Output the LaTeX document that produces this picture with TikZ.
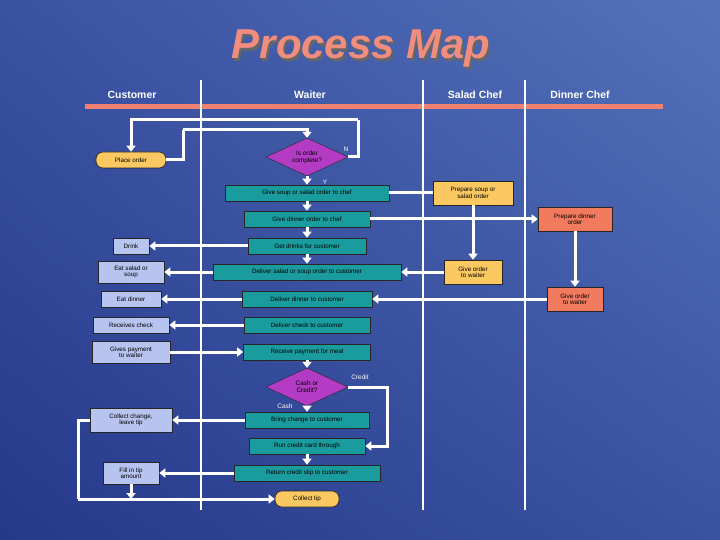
\documentclass[tikz,border=0pt]{standalone}
\usepackage{fontspec}
\setmainfont{Liberation Sans}
\usetikzlibrary{shapes.geometric,arrows.meta,calc,shadings}

\definecolor{bgdark}{HTML}{26388A}
\definecolor{bgmid}{HTML}{3A52A2}
\definecolor{bglight}{HTML}{5472BA}
\definecolor{lanebar}{HTML}{F08070}
\definecolor{teal}{HTML}{1A9C9E}
\definecolor{custblue}{HTML}{B8C4F0}
\definecolor{saladorange}{HTML}{FCC862}
\definecolor{dinnerred}{HTML}{F27A5E}
\definecolor{decpurple}{HTML}{B43CC4}

\tikzset{
    box/.style={draw=black!85, line width=0.6bp, inner sep=1bp, align=center,
        minimum height=16bp, font=\fontsize{6.3}{6.5}\selectfont},
    waiter/.style={box, fill=teal},
    cust/.style={box, fill=custblue},
    salad/.style={box, fill=saladorange, minimum height=24bp},
    dinner/.style={box, fill=dinnerred, minimum height=24bp},
    term/.style={box, fill=saladorange, rounded corners=7bp},
    decide/.style={diamond, draw=black!85, fill=decpurple, aspect=2.15, inner sep=0pt,
        minimum width=82bp, minimum height=38bp, align=center, font=\fontsize{6.5}{7}\selectfont},
    flow/.style={white, line width=3bp, -{Triangle[length=6bp,width=9bp]}},
    link/.style={white, line width=3bp},
    lbl/.style={white, font=\fontsize{6.5}{7}\selectfont},
    head/.style={white, font=\fontsize{10.5}{12}\selectfont\bfseries}
}

\begin{document}
\begin{tikzpicture}[x=1bp, y=-1bp]
    \useasboundingbox (0,0) rectangle (720,540);
    \shade[lower left=bgdark, upper right=bglight, upper left=bgmid, lower right=bgmid]
        (0,0) rectangle (720,540);
    % title
    \node[black!60, font=\fontsize{42}{46}\selectfont\bfseries\itshape] at (363,51) {Process Map};
    \node[lanebar!90!white, font=\fontsize{42}{46}\selectfont\bfseries\itshape] at (361,48) {Process Map};
    % lanes
    \draw[lanebar, line width=5bp] (85,107) -- (663,107);
    \foreach \x in {201,423,525}
        \draw[white, line width=1.5bp] (\x,80) -- (\x,510);
    \node[head] at (132,95) {Customer};
    \node[head] at (310,95) {Waiter};
    \node[head] at (475,95) {Salad Chef};
    \node[head] at (580,95) {Dinner Chef};

    % customer
    \node[term, minimum width=70bp] (place) at (131,160) {Place order};
    \node[cust, minimum width=36bp] (drink) at (131,246) {Drink};
    \node[cust, minimum width=66bp, minimum height=22bp] (eatsalad) at (131,272) {Eat salad or\\soup};
    \node[cust, minimum width=60bp] (eatdinner) at (131,299) {Eat dinner};
    \node[cust, minimum width=76bp] (check) at (131,325) {Receives check};
    \node[cust, minimum width=78bp, minimum height=22bp] (pays) at (131,352) {Gives payment\\to waiter};
    \node[cust, minimum width=82bp, minimum height=24bp] (change) at (131,420) {Collect change,\\leave tip};
    \node[cust, minimum width=56bp, minimum height=22bp] (filltip) at (131,473) {Fill in tip\\amount};

    % waiter
    \node[decide] (isdone) at (307,157) {Is order\\complete?};
    \node[waiter, minimum width=164bp] (givesoup) at (307,193) {Give soup or salad order to chef};
    \node[waiter, minimum width=126bp] (givedinner) at (307,219) {Give dinner order to chef};
    \node[waiter, minimum width=118bp] (drinks) at (307,246) {Get drinks for customer};
    \node[waiter, minimum width=188bp] (delsoup) at (307,272) {Deliver salad or soup order to customer};
    \node[waiter, minimum width=130bp] (deldinner) at (307,299) {Deliver dinner to customer};
    \node[waiter, minimum width=126bp] (delcheck) at (307,325) {Deliver check to customer};
    \node[waiter, minimum width=127bp] (payment) at (307,352) {Receive payment for meal};
    \node[decide] (cash) at (307,387) {Cash or\\Credit?};
    \node[waiter, minimum width=124bp] (bring) at (307,420) {Bring change to customer};
    \node[waiter, minimum width=116bp] (run) at (307,446) {Run credit card through};
    \node[waiter, minimum width=146bp] (slip) at (307,473) {Return credit slip to customer};
    \node[term, minimum width=64bp] (tip) at (307,499) {Collect tip};

    % chefs
    \node[salad, minimum width=80bp] (prepsoup) at (473,193) {Prepare soup or\\salad order};
    \node[salad, minimum width=58bp] (soupready) at (473,272) {Give order\\to waiter};
    \node[dinner, minimum width=74bp] (prepdinner) at (575,219) {Prepare dinner\\order};
    \node[dinner, minimum width=56bp] (dinnerready) at (575,299) {Give order\\to waiter};

    \coordinate (j1) at (183,130);
    \coordinate (j2) at (358,120);
    \coordinate (j3) at (387,400);
    \coordinate (j4) at (78,499);

    % connectors
    \draw[link] (place.east) -| (j1);
    \draw[flow] (j1) -| (isdone.north);
    \draw[link] (isdone.east) -| (j2);
    \draw[flow] (j2) -| (place.north);
    \draw[flow] (isdone.south) -- (givesoup.north);
    \draw[link] (givesoup.east) -- (prepsoup.west);
    \draw[flow] (givesoup) -- (givedinner);
    \draw[flow] (givedinner.east) -- (prepdinner.west);
    \draw[flow] (givedinner) -- (drinks);
    \draw[flow] (drinks.west) -- (drink.east);
    \draw[flow] (drinks) -- (delsoup);
    \draw[flow] (prepsoup) -- (soupready);
    \draw[flow] (soupready.west) -- (delsoup.east);
    \draw[flow] (delsoup.west) -- (eatsalad.east);
    \draw[flow] (prepdinner) -- (dinnerready);
    \draw[flow] (dinnerready.west) -- (deldinner.east);
    \draw[flow] (deldinner.west) -- (eatdinner.east);
    \draw[flow] (delcheck.west) -- (check.east);
    \draw[flow] (pays.east) -- (payment.west);
    \draw[flow] (payment.south) -- (cash.north);
    \draw[flow] (cash.south) -- (bring.north);
    \draw[link] (cash.east) -| (j3);
    \draw[flow] (j3) |- (run.east);
    \draw[flow] (bring.west) -- (change.east);
    \draw[flow] (run) -- (slip);
    \draw[flow] (slip.west) -- (filltip.east);
    \draw[link] (change.west) -| (j4);
    \draw[flow] (j4) -- (tip.west);
    \draw[flow] (filltip.south) -- (filltip.south |- j4);

    % labels
    \node[lbl] at (346,149) {N};
    \node[lbl] at (325,182) {Y};
    \node[lbl] at (360,377) {Credit};
    \node[lbl] at (285,406) {Cash};
\end{tikzpicture}
\end{document}
